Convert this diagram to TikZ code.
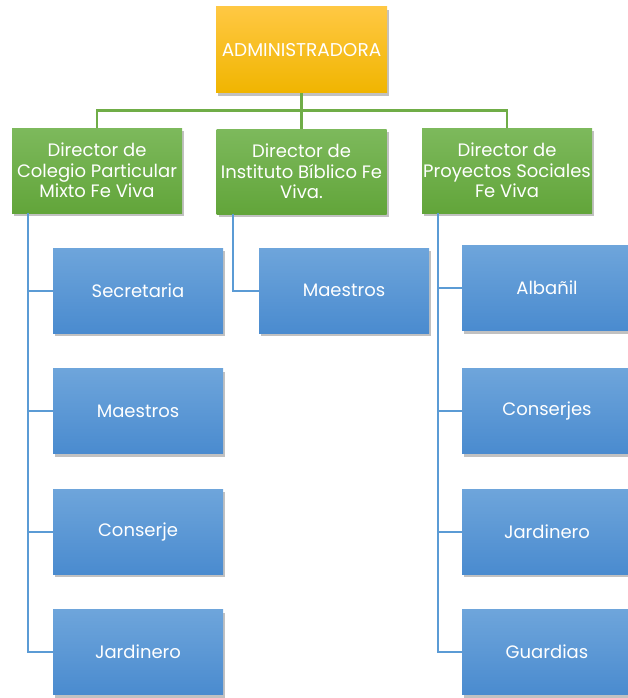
\documentclass[tikz,border=0pt]{standalone}
\usepackage{fontspec}
\setmainfont{Poppins}
\usetikzlibrary{shadows,calc}
\definecolor{goldtop}{HTML}{FFC843}
\definecolor{goldbot}{HTML}{F0B500}
\definecolor{greentop}{HTML}{7DB95C}
\definecolor{greenbot}{HTML}{62A53A}
\definecolor{bluetop}{HTML}{6EA5DB}
\definecolor{bluebot}{HTML}{4A8BCF}
\definecolor{gline}{HTML}{70AD47}
\definecolor{bline}{HTML}{5B9BD5}
\tikzset{
  box/.style={rectangle, minimum width=170pt, minimum height=85pt, inner sep=1pt,
    text=white, align=center, font=\fontsize{18}{20.5}\selectfont,
    drop shadow={shadow xshift=2pt, shadow yshift=-3pt, opacity=0.3, fill=black!80}},
  adminbox/.style={box, minimum width=171pt, minimum height=86pt, top color=goldtop, bottom color=goldbot},
  dirbox/.style={box, top color=greentop, bottom color=greenbot},
  staffbox/.style={box, top color=bluetop, bottom color=bluebot},
  gconn/.style={draw=gline, line width=2.5pt},
  bconn/.style={draw=bline, line width=2pt}
}
\begin{document}
\begin{tikzpicture}[x=1pt,y=-1pt]
\useasboundingbox (0,0) rectangle (628,698);
% nodes
\node[adminbox, font=\fontsize{18.5}{20.5}\selectfont] (admin) at (301.5,50) {ADMINISTRADORA};
\node[dirbox] (g1) at (97,170.5) {Director de\\Colegio Particular\\Mixto Fe Viva};
\node[dirbox] (g2) at (301.5,171.5) {Director de\\Instituto Bíblico Fe\\Viva.};
\node[dirbox] (g3) at (507,170.5) {Director de\\Proyectos Sociales\\Fe Viva};
\node[staffbox] (b11) at (138,290.5) {Secretaria};
\node[staffbox] (b12) at (138,411) {Maestros};
\node[staffbox] (b13) at (138,531.5) {Conserje};
\node[staffbox] (b14) at (138,652) {Jardinero};
\node[staffbox] (b21) at (344,290.5) {Maestros};
\node[staffbox] (b31) at (547,288) {Albañil};
\node[staffbox] (b32) at (547,411) {Conserjes};
\node[staffbox] (b33) at (547,531.5) {Jardinero};
\node[staffbox] (b34) at (547,652) {Guardias};
% green connectors
\coordinate (hub) at (301.5,110.5);
\draw[gconn] (admin.south) -- (hub);
\draw[gconn] (hub) -| (g1.north);
\draw[gconn] (hub) -| (g3.north);
\draw[gconn] (hub) -- (g2.north);
% blue connectors
\draw[bconn] ([xshift=16pt]g1.south west) |- (b11.west);
\draw[bconn] ([xshift=16pt]g1.south west) |- (b12.west);
\draw[bconn] ([xshift=16pt]g1.south west) |- (b13.west);
\draw[bconn] ([xshift=16pt]g1.south west) |- (b14.west);
\draw[bconn] ([xshift=17pt]g2.south west) |- (b21.west);
\draw[bconn] ([xshift=16pt]g3.south west) |- (b31.west);
\draw[bconn] ([xshift=16pt]g3.south west) |- (b32.west);
\draw[bconn] ([xshift=16pt]g3.south west) |- (b33.west);
\draw[bconn] ([xshift=16pt]g3.south west) |- (b34.west);
\end{tikzpicture}
\end{document}
